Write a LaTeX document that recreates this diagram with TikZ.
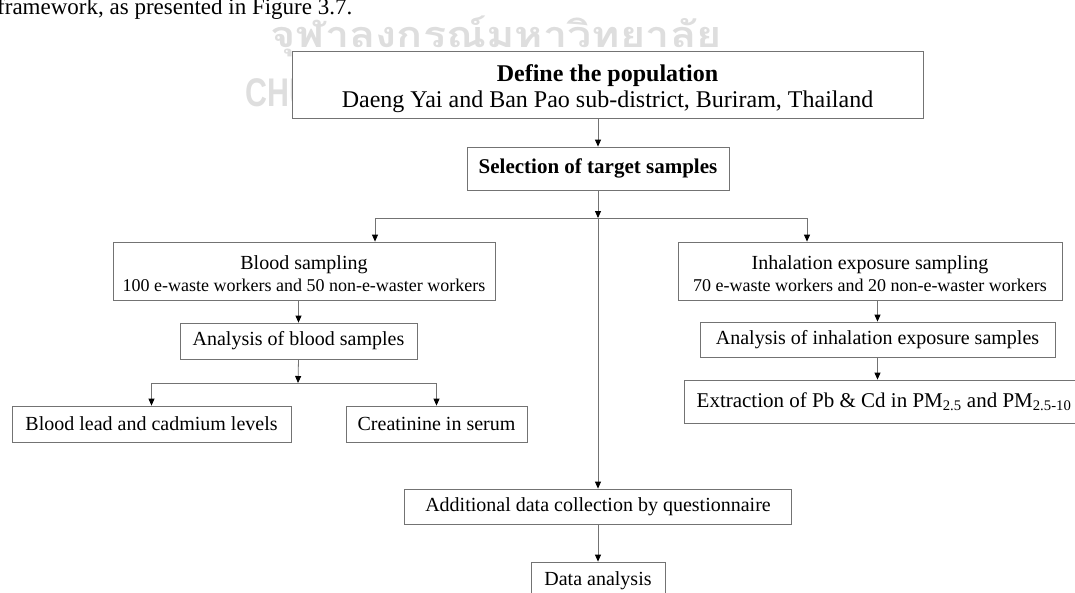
\documentclass[tikz,border=0pt]{standalone}
\usepackage{fontspec}
\setmainfont{Liberation Serif}
\newfontfamily\thaifont[Script=Thai]{Loma}
\newfontfamily\wmfont{Liberation Sans}
\usetikzlibrary{arrows.meta}

\begin{document}
\begin{tikzpicture}[x=1pt,y=-1pt,
  box/.style={draw=black!55, fill=white, line width=0.8pt, inner sep=0pt, align=center,
    font=\fontsize{20}{22}\selectfont},
  flow/.style={draw=black!55, line width=0.8pt, -{Triangle[length=7pt,width=6pt,black]}},
  wmark/.style={text=black!13, inner sep=0pt}]
  \useasboundingbox (0,0) rectangle (1075,592);
  \clip (0,0) rectangle (1075,592);

  % page text and watermark behind the chart
  \node[anchor=base west, inner sep=0pt, font=\fontsize{23}{23}\selectfont] (cap) at (-3,14) {framework, as presented in Figure 3.7.};
  \node[wmark, font=\thaifont\bfseries\fontsize{36}{36}\selectfont] (wmth) at (496,36) {\scalebox{1.2}[1]{จุฬาลงกรณ์มหาวิทยาลัย}};
  \node[wmark, anchor=west, font=\wmfont\bfseries\fontsize{40}{40}\selectfont] (wmen) at (245,93) {\scalebox{0.76}[1]{CHULALONGKORN UNIVERSITY}};

  % boxes
  \node[box, minimum width=631, minimum height=67] (pop) at (607.5,84.5)
    {{\rule{0pt}{25pt}\fontsize{24}{26}\selectfont\bfseries Define the population}\\[4pt]
     {\fontsize{24}{26}\selectfont Daeng Yai and Ban Pao sub-district, Buriram, Thailand}};
  \node[box, minimum width=262, minimum height=43, font=\fontsize{21}{22}\selectfont\bfseries] (sel) at (598,168.5) {Selection of target samples};
  \node[box, minimum width=382, minimum height=58] (blood) at (304,271)
    {\rule{0pt}{19pt}Blood sampling\\ {\fontsize{18}{20}\selectfont 100 e-waste workers and 50 non-e-waster workers}};
  \node[box, minimum width=384, minimum height=58] (inh) at (870,271)
    {\rule{0pt}{19pt}Inhalation exposure sampling\\ {\fontsize{18}{20}\selectfont 70 e-waste workers and 20 non-e-waster workers}};
  \node[box, minimum width=237, minimum height=36] (anb) at (298.5,341) {Analysis of blood samples};
  \node[box, minimum width=355, minimum height=35] (ani) at (877.5,339.5) {Analysis of inhalation exposure samples};
  \node[box, minimum width=279, minimum height=36] (lead) at (151.5,424) {Blood lead and cadmium levels};
  \node[box, minimum width=181, minimum height=36] (crea) at (436.5,424) {Creatinine in serum};
  \node[box, minimum width=400, minimum height=43, font=\fontsize{21}{22}\selectfont] (ext) at (884,401.5)
    {Extraction of Pb \& Cd in PM\textsubscript{2.5} and PM\textsubscript{2.5-10}};
  \node[box, minimum width=387, minimum height=35] (add) at (598,506.5) {Additional data collection by questionnaire};
  \node[box, minimum width=134, minimum height=38] (da) at (598,581) {Data analysis};

  % branch points
  \coordinate (split) at (598,218);
  \coordinate (bin) at (375,218);
  \coordinate (iin) at (807,218);
  \coordinate (bsplit) at (298,383);

  % connectors
  \draw[flow] (pop.south -| sel.north) -- (sel.north);
  \draw[flow] (sel.south) -- (split);
  \draw[flow] (split) -| (bin |- blood.north);
  \draw[flow] (split) -| (iin |- inh.north);
  \draw[flow] (split) -- (add.north);
  \draw[flow] (blood.south -| anb.north) -- (anb.north);
  \draw[flow] (anb.south) -- (bsplit);
  \draw[flow] (bsplit) -| (lead.north);
  \draw[flow] (bsplit) -| (crea.north);
  \draw[flow] (inh.south -| ani.north) -- (ani.north);
  \draw[flow] (ani.south) -- (ani.south |- ext.north);
  \draw[flow] (add.south) -- (da.north);
\end{tikzpicture}
\end{document}
